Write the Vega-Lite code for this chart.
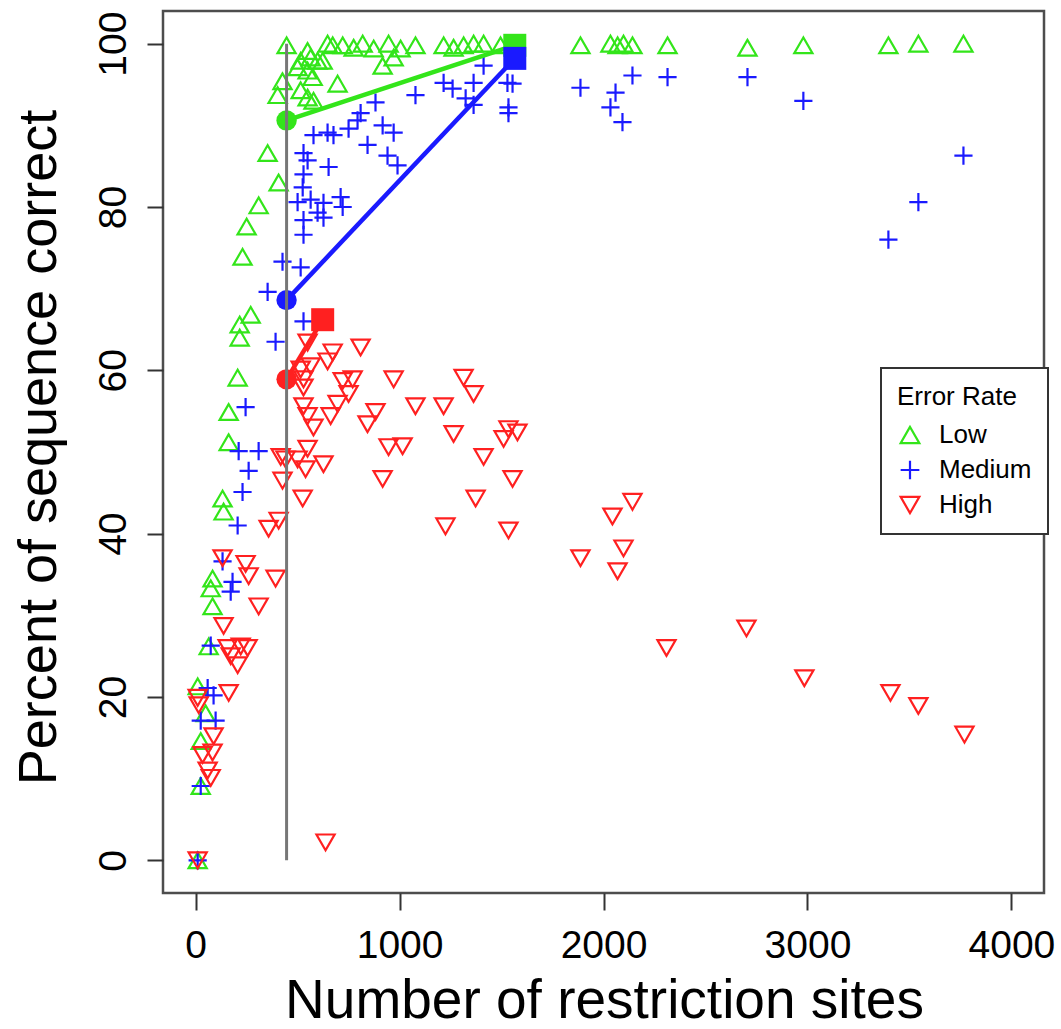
{
  "$schema": "https://vega.github.io/schema/vega-lite/v6.json",
  "width": 881,
  "height": 882,
  "autosize": {"type": "none"},
  "padding": {"left": 163, "top": 11, "right": 17, "bottom": 136},
  "background": "white",
  "config": {
    "font": "Liberation Sans",
    "view": {"stroke": "#4d4d4d", "strokeWidth": 2.5},
    "axis": {"grid": false},
    "legend": {"strokeWidth": 2}
  },
  "datasets": {
    "pts": [
      {"rate":"Low","sites":446,"pct":99.8},{"rate":"Low","sites":515,"pct":97.9},{"rate":"Low","sites":500,"pct":97.1},{"rate":"Low","sites":549,"pct":99.1},{"rate":"Low","sites":564,"pct":98.3},{"rate":"Low","sites":598,"pct":97.9},{"rate":"Low","sites":549,"pct":96.7},{"rate":"Low","sites":574,"pct":95.9},{"rate":"Low","sites":623,"pct":97.9},{"rate":"Low","sites":647,"pct":100},{"rate":"Low","sites":672,"pct":99.8},{"rate":"Low","sites":721,"pct":99.8},{"rate":"Low","sites":775,"pct":99.5},{"rate":"Low","sites":819,"pct":100},{"rate":"Low","sites":873,"pct":99.4},{"rate":"Low","sites":917,"pct":97.3},{"rate":"Low","sites":946,"pct":100},{"rate":"Low","sites":971,"pct":98.3},{"rate":"Low","sites":1005,"pct":99.4},{"rate":"Low","sites":1078,"pct":99.8},{"rate":"Low","sites":1216,"pct":99.8},{"rate":"Low","sites":1265,"pct":99.5},{"rate":"Low","sites":1314,"pct":99.8},{"rate":"Low","sites":1363,"pct":100},{"rate":"Low","sites":1412,"pct":100},{"rate":"Low","sites":1495,"pct":99.8},{"rate":"Low","sites":696,"pct":95.1},{"rate":"Low","sites":515,"pct":94.3},{"rate":"Low","sites":549,"pct":93.4},{"rate":"Low","sites":578,"pct":93.0},{"rate":"Low","sites":426,"pct":95.4},{"rate":"Low","sites":402,"pct":93.7},{"rate":"Low","sites":353,"pct":86.6},{"rate":"Low","sites":407,"pct":83.0},{"rate":"Low","sites":309,"pct":80.2},{"rate":"Low","sites":250,"pct":77.6},{"rate":"Low","sites":230,"pct":73.9},{"rate":"Low","sites":270,"pct":66.8},{"rate":"Low","sites":216,"pct":65.6},{"rate":"Low","sites":216,"pct":64.0},{"rate":"Low","sites":206,"pct":59.1},{"rate":"Low","sites":162,"pct":54.9},{"rate":"Low","sites":162,"pct":51.2},{"rate":"Low","sites":132,"pct":44.3},{"rate":"Low","sites":137,"pct":42.7},{"rate":"Low","sites":83,"pct":34.5},{"rate":"Low","sites":74,"pct":33.3},{"rate":"Low","sites":83,"pct":31.1},{"rate":"Low","sites":64,"pct":26.2},{"rate":"Low","sites":10,"pct":21.3},{"rate":"Low","sites":49,"pct":18.0},{"rate":"Low","sites":25,"pct":14.6},{"rate":"Low","sites":25,"pct":9.1},{"rate":"Low","sites":10,"pct":0},{"rate":"Low","sites":1887,"pct":99.8},{"rate":"Low","sites":2034,"pct":100},{"rate":"Low","sites":2069,"pct":99.8},{"rate":"Low","sites":2098,"pct":100},{"rate":"Low","sites":2142,"pct":99.8},{"rate":"Low","sites":2314,"pct":99.8},{"rate":"Low","sites":2706,"pct":99.5},{"rate":"Low","sites":2980,"pct":99.8},{"rate":"Low","sites":3397,"pct":99.8},{"rate":"Low","sites":3544,"pct":100},{"rate":"Low","sites":3765,"pct":100},
      {"rate":"Medium","sites":1216,"pct":95.2},{"rate":"Medium","sites":1260,"pct":94.5},{"rate":"Medium","sites":1078,"pct":93.7},{"rate":"Medium","sites":882,"pct":92.8},{"rate":"Medium","sites":809,"pct":91.5},{"rate":"Medium","sites":794,"pct":90.6},{"rate":"Medium","sites":750,"pct":89.6},{"rate":"Medium","sites":917,"pct":90.0},{"rate":"Medium","sites":971,"pct":89.1},{"rate":"Medium","sites":647,"pct":89.1},{"rate":"Medium","sites":676,"pct":88.8},{"rate":"Medium","sites":578,"pct":88.8},{"rate":"Medium","sites":843,"pct":87.6},{"rate":"Medium","sites":941,"pct":86.3},{"rate":"Medium","sites":990,"pct":85.1},{"rate":"Medium","sites":529,"pct":86.6},{"rate":"Medium","sites":549,"pct":85.7},{"rate":"Medium","sites":652,"pct":84.9},{"rate":"Medium","sites":529,"pct":84.0},{"rate":"Medium","sites":525,"pct":82.4},{"rate":"Medium","sites":500,"pct":80.6},{"rate":"Medium","sites":564,"pct":80.9},{"rate":"Medium","sites":627,"pct":80.5},{"rate":"Medium","sites":711,"pct":81.2},{"rate":"Medium","sites":721,"pct":80.0},{"rate":"Medium","sites":529,"pct":78.4},{"rate":"Medium","sites":598,"pct":79.3},{"rate":"Medium","sites":627,"pct":78.7},{"rate":"Medium","sites":529,"pct":76.6},{"rate":"Medium","sites":426,"pct":73.3},{"rate":"Medium","sites":515,"pct":72.6},{"rate":"Medium","sites":353,"pct":69.6},{"rate":"Medium","sites":529,"pct":66.0},{"rate":"Medium","sites":392,"pct":63.5},{"rate":"Medium","sites":245,"pct":55.5},{"rate":"Medium","sites":211,"pct":50.1},{"rate":"Medium","sites":309,"pct":50.1},{"rate":"Medium","sites":260,"pct":47.7},{"rate":"Medium","sites":230,"pct":45.1},{"rate":"Medium","sites":206,"pct":41.0},{"rate":"Medium","sites":132,"pct":36.6},{"rate":"Medium","sites":181,"pct":34.1},{"rate":"Medium","sites":172,"pct":32.9},{"rate":"Medium","sites":74,"pct":26.3},{"rate":"Medium","sites":59,"pct":21.1},{"rate":"Medium","sites":88,"pct":20.2},{"rate":"Medium","sites":25,"pct":17.1},{"rate":"Medium","sites":98,"pct":17.1},{"rate":"Medium","sites":25,"pct":9.1},{"rate":"Medium","sites":10,"pct":0},{"rate":"Medium","sites":1412,"pct":97.3},{"rate":"Medium","sites":1363,"pct":95.2},{"rate":"Medium","sites":1324,"pct":93.3},{"rate":"Medium","sites":1363,"pct":92.5},{"rate":"Medium","sites":1529,"pct":95.2},{"rate":"Medium","sites":1554,"pct":95.1},{"rate":"Medium","sites":1534,"pct":92.2},{"rate":"Medium","sites":1534,"pct":91.5},{"rate":"Medium","sites":1887,"pct":94.6},{"rate":"Medium","sites":2142,"pct":96.1},{"rate":"Medium","sites":2059,"pct":94.0},{"rate":"Medium","sites":2034,"pct":92.2},{"rate":"Medium","sites":2093,"pct":90.4},{"rate":"Medium","sites":2314,"pct":95.9},{"rate":"Medium","sites":2706,"pct":95.9},{"rate":"Medium","sites":2980,"pct":93.0},{"rate":"Medium","sites":3765,"pct":86.3},{"rate":"Medium","sites":3544,"pct":80.6},{"rate":"Medium","sites":3397,"pct":76.0},
      {"rate":"High","sites":809,"pct":62.8},{"rate":"High","sites":672,"pct":62.2},{"rate":"High","sites":647,"pct":61.1},{"rate":"High","sites":564,"pct":60.5},{"rate":"High","sites":549,"pct":63.4},{"rate":"High","sites":515,"pct":60.1},{"rate":"High","sites":529,"pct":58.9},{"rate":"High","sites":529,"pct":57.9},{"rate":"High","sites":721,"pct":58.7},{"rate":"High","sites":770,"pct":58.9},{"rate":"High","sites":971,"pct":58.9},{"rate":"High","sites":1314,"pct":59.1},{"rate":"High","sites":750,"pct":57.1},{"rate":"High","sites":696,"pct":55.9},{"rate":"High","sites":529,"pct":55.6},{"rate":"High","sites":1078,"pct":55.6},{"rate":"High","sites":1216,"pct":55.6},{"rate":"High","sites":662,"pct":54.4},{"rate":"High","sites":882,"pct":54.9},{"rate":"High","sites":843,"pct":53.4},{"rate":"High","sites":549,"pct":54.4},{"rate":"High","sites":578,"pct":53.0},{"rate":"High","sites":1265,"pct":52.2},{"rate":"High","sites":946,"pct":50.6},{"rate":"High","sites":1015,"pct":50.7},{"rate":"High","sites":549,"pct":50.4},{"rate":"High","sites":417,"pct":49.4},{"rate":"High","sites":441,"pct":49.1},{"rate":"High","sites":500,"pct":49.1},{"rate":"High","sites":627,"pct":48.5},{"rate":"High","sites":539,"pct":47.9},{"rate":"High","sites":917,"pct":46.7},{"rate":"High","sites":426,"pct":46.5},{"rate":"High","sites":525,"pct":44.3},{"rate":"High","sites":407,"pct":41.6},{"rate":"High","sites":358,"pct":40.6},{"rate":"High","sites":1225,"pct":40.9},{"rate":"High","sites":132,"pct":37.0},{"rate":"High","sites":245,"pct":36.3},{"rate":"High","sites":260,"pct":34.8},{"rate":"High","sites":392,"pct":34.5},{"rate":"High","sites":1363,"pct":57.1},{"rate":"High","sites":1534,"pct":52.8},{"rate":"High","sites":1510,"pct":51.6},{"rate":"High","sites":1578,"pct":52.4},{"rate":"High","sites":1412,"pct":49.4},{"rate":"High","sites":1554,"pct":46.7},{"rate":"High","sites":1373,"pct":44.3},{"rate":"High","sites":1534,"pct":40.4},{"rate":"High","sites":2142,"pct":43.9},{"rate":"High","sites":2044,"pct":42.1},{"rate":"High","sites":2098,"pct":38.2},{"rate":"High","sites":1887,"pct":37.0},{"rate":"High","sites":2069,"pct":35.4},{"rate":"High","sites":2309,"pct":26.0},{"rate":"High","sites":2701,"pct":28.4},{"rate":"High","sites":2985,"pct":22.3},{"rate":"High","sites":3407,"pct":20.5},{"rate":"High","sites":3544,"pct":18.9},{"rate":"High","sites":3770,"pct":15.4},{"rate":"High","sites":309,"pct":31.1},{"rate":"High","sites":137,"pct":28.7},{"rate":"High","sites":157,"pct":26.0},{"rate":"High","sites":221,"pct":26.2},{"rate":"High","sites":255,"pct":26.0},{"rate":"High","sites":172,"pct":25.0},{"rate":"High","sites":206,"pct":23.9},{"rate":"High","sites":162,"pct":20.5},{"rate":"High","sites":10,"pct":19.9},{"rate":"High","sites":15,"pct":19.0},{"rate":"High","sites":88,"pct":15.2},{"rate":"High","sites":34,"pct":12.9},{"rate":"High","sites":83,"pct":13.2},{"rate":"High","sites":59,"pct":11.0},{"rate":"High","sites":74,"pct":10.1},{"rate":"High","sites":10,"pct":0},{"rate":"High","sites":637,"pct":2.2}
    ],
    "summary": [
      {"rate":"Low","stat":"start","sites":446,"pct":90.6},{"rate":"Low","stat":"end","sites":1565,"pct":99.8},
      {"rate":"Medium","stat":"start","sites":446,"pct":68.6},{"rate":"Medium","stat":"end","sites":1565,"pct":98.2},
      {"rate":"High","stat":"start","sites":446,"pct":58.9},{"rate":"High","stat":"end","sites":623,"pct":66.2}
    ],
    "cut": [{"sites":446,"lo":0,"hi":100}]
  },
  "layer": [
    {
      "data": {"name": "pts"},
      "mark": {"type": "point", "filled": false, "size": 330, "strokeWidth": 2.2, "opacity": 1},
      "encoding": {
        "x": {"field": "sites", "type": "quantitative",
          "scale": {"domain": [-160, 4160], "nice": false, "zero": false},
          "axis": {"values": [0, 1000, 2000, 3000, 4000], "format": "d", "title": "Number of restriction sites",
            "titleFontSize": 55, "titleFontWeight": "normal", "titleColor": "black",
            "titleX": 441, "titleY": 124, "titleBaseline": "alphabetic", "titleAlign": "center",
            "labelFontSize": 39, "labelColor": "black", "labelPadding": 16, "labelFlush": false, "labelOverlap": false,
            "tickSize": 17, "tickWidth": 2, "tickColor": "#333", "domain": false}},
        "y": {"field": "pct", "type": "quantitative",
          "scale": {"domain": [-4, 104], "nice": false, "zero": false},
          "axis": {"values": [0, 20, 40, 60, 80, 100], "format": "d", "title": "Percent of sequence correct",
            "titleFontSize": 54, "titleFontWeight": "normal", "titleColor": "black",
            "titleX": -108, "titleY": 436, "titleAngle": 270, "titleBaseline": "alphabetic", "titleAlign": "center",
            "labelFontSize": 39, "labelColor": "black", "labelAngle": 270, "labelAlign": "center", "labelBaseline": "alphabetic",
            "labelPadding": 22, "labelFlush": false, "labelOverlap": false,
            "tickSize": 16, "tickWidth": 2, "tickColor": "#333", "domain": false}},
        "stroke": {"field": "rate", "type": "nominal",
          "scale": {"domain": ["Low", "Medium", "High"], "range": ["#33e51a", "#1a1aff", "#ff2020"]},
          "legend": {"title": "Error Rate", "orient": "none", "legendX": 718, "legendY": 357, "padding": 16,
            "strokeColor": "#333", "fillColor": "white", "titleFontSize": 26, "titleFontWeight": "normal", "titleColor": "black",
            "titlePadding": 12, "labelFontSize": 26, "labelColor": "black", "labelOffset": 16, "rowPadding": 8,
            "symbolSize": 350, "symbolStrokeWidth": 2.2, "symbolFillColor": "transparent"}},
        "shape": {"field": "rate", "type": "nominal",
          "scale": {"domain": ["Low", "Medium", "High"], "range": ["triangle-up", "M-1,0L1,0M0,-1L0,1", "triangle-down"]},
          "legend": {"title": "Error Rate", "orient": "none", "legendX": 718, "legendY": 357, "padding": 16,
            "strokeColor": "#333", "fillColor": "white", "titleFontSize": 26, "titleFontWeight": "normal", "titleColor": "black",
            "titlePadding": 12, "labelFontSize": 26, "labelColor": "black", "labelOffset": 16, "rowPadding": 8,
            "symbolSize": 350, "symbolStrokeWidth": 2.2, "symbolFillColor": "transparent"}}
      }
    },
    {
      "data": {"name": "summary"},
      "mark": {"type": "line", "strokeWidth": 4.5},
      "encoding": {
        "x": {"field": "sites", "type": "quantitative"},
        "y": {"field": "pct", "type": "quantitative"},
        "detail": {"field": "rate", "type": "nominal"},
        "stroke": {"condition": [{"test": "datum.rate === 'Low'", "value": "#33e51a"}, {"test": "datum.rate === 'Medium'", "value": "#1a1aff"}], "value": "#ff2020"}
      }
    },
    {
      "data": {"name": "summary"},
      "transform": [{"filter": "datum.stat === 'start'"}],
      "mark": {"type": "point", "shape": "circle", "filled": true, "strokeWidth": 0, "size": 415, "opacity": 1},
      "encoding": {
        "x": {"field": "sites", "type": "quantitative"},
        "y": {"field": "pct", "type": "quantitative"},
        "fill": {"condition": [{"test": "datum.rate === 'Low'", "value": "#33e51a"}, {"test": "datum.rate === 'Medium'", "value": "#1a1aff"}], "value": "#ff2020"}
      }
    },
    {
      "data": {"name": "summary"},
      "transform": [{"filter": "datum.stat === 'end'"}],
      "mark": {"type": "point", "shape": "square", "filled": true, "strokeWidth": 0, "size": 529, "opacity": 1},
      "encoding": {
        "x": {"field": "sites", "type": "quantitative"},
        "y": {"field": "pct", "type": "quantitative"},
        "fill": {"condition": [{"test": "datum.rate === 'Low'", "value": "#33e51a"}, {"test": "datum.rate === 'Medium'", "value": "#1a1aff"}], "value": "#ff2020"}
      }
    },
    {
      "data": {"name": "cut"},
      "mark": {"type": "rule", "color": "#777777", "strokeWidth": 3},
      "encoding": {
        "x": {"field": "sites", "type": "quantitative"},
        "y": {"field": "lo", "type": "quantitative"},
        "y2": {"field": "hi"}
      }
    }
  ]
}
